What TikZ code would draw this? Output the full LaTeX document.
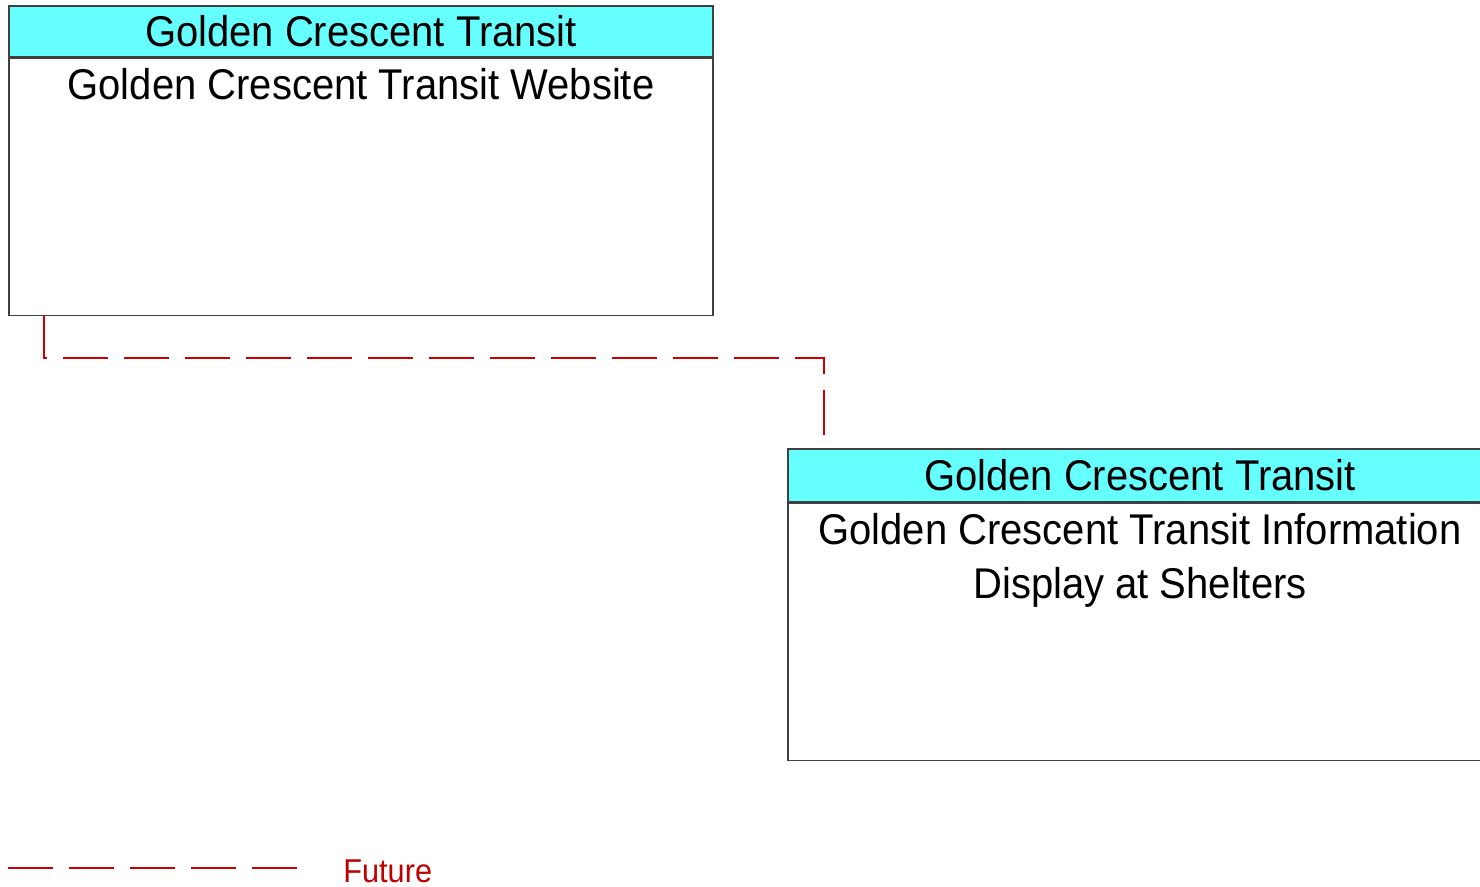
\documentclass[tikz,border=0pt]{standalone}
\usepackage{fontspec}
\setmainfont{Liberation Sans}
\newfontfamily\gcfont[FakeStretch=0.93]{Liberation Sans}
\usetikzlibrary{positioning}
\definecolor{hdrcyan}{RGB}{102,255,255}
\definecolor{futurered}{RGB}{204,0,0}
\definecolor{legendred}{RGB}{192,0,0}

\begin{document}
\begin{tikzpicture}[x=0.5pt,y=-0.5pt,
  hdr/.style={draw=black!75, line width=0.7pt, fill=hdrcyan, inner sep=0pt,
    minimum width=352pt, minimum height=25.5pt,
    font=\gcfont\fontsize{21.5}{27}\selectfont},
  body/.style={draw=black!75, line width=0.7pt, inner sep=0pt,
    minimum width=352pt, minimum height=128.5pt},
  boxtxt/.style={inner sep=0pt, align=center,
    font=\gcfont\fontsize{21.5}{27}\selectfont},
  future/.style={futurered, line width=0.75pt, dash pattern=on 22.5pt off 8pt}]
  \clip (0,0) rectangle (1480,887);
  % Golden Crescent Transit Website
  \node[hdr] (hdrweb) at (361,31.5) {Golden Crescent Transit};
  \node[body, below=0pt of hdrweb] (web) {};
  \node[boxtxt, below=5pt of web.north] (webtxt) {Golden Crescent Transit Website};
  % Information Display at Shelters
  \node[hdr, minimum height=26.5pt] (hdrshelter) at (1140,475.5) {Golden Crescent Transit};
  \node[body, below=0pt of hdrshelter] (shelter) {};
  \node[boxtxt, below=5pt of shelter.north] (sheltertxt) {Golden Crescent Transit Information\\Display at Shelters};
  % flow
  \coordinate (fromweb) at ([xshift=17.75pt]web.south west);
  \coordinate (toshelter) at ([xshift=18.25pt,yshift=4pt]hdrshelter.north west);
  \draw[future] (fromweb) -- ++(0,42) -| (toshelter);
  % legend
  \coordinate (legstart) at (8,868);
  \node[anchor=west, inner sep=0pt, text=legendred,
    font=\gcfont\fontsize{16.5}{20}\selectfont] (futlabel) at (343,871) {Future};
  \draw[future] (legstart) -- ([xshift=-22.5pt]legstart -| futlabel.west);
\end{tikzpicture}
\end{document}
